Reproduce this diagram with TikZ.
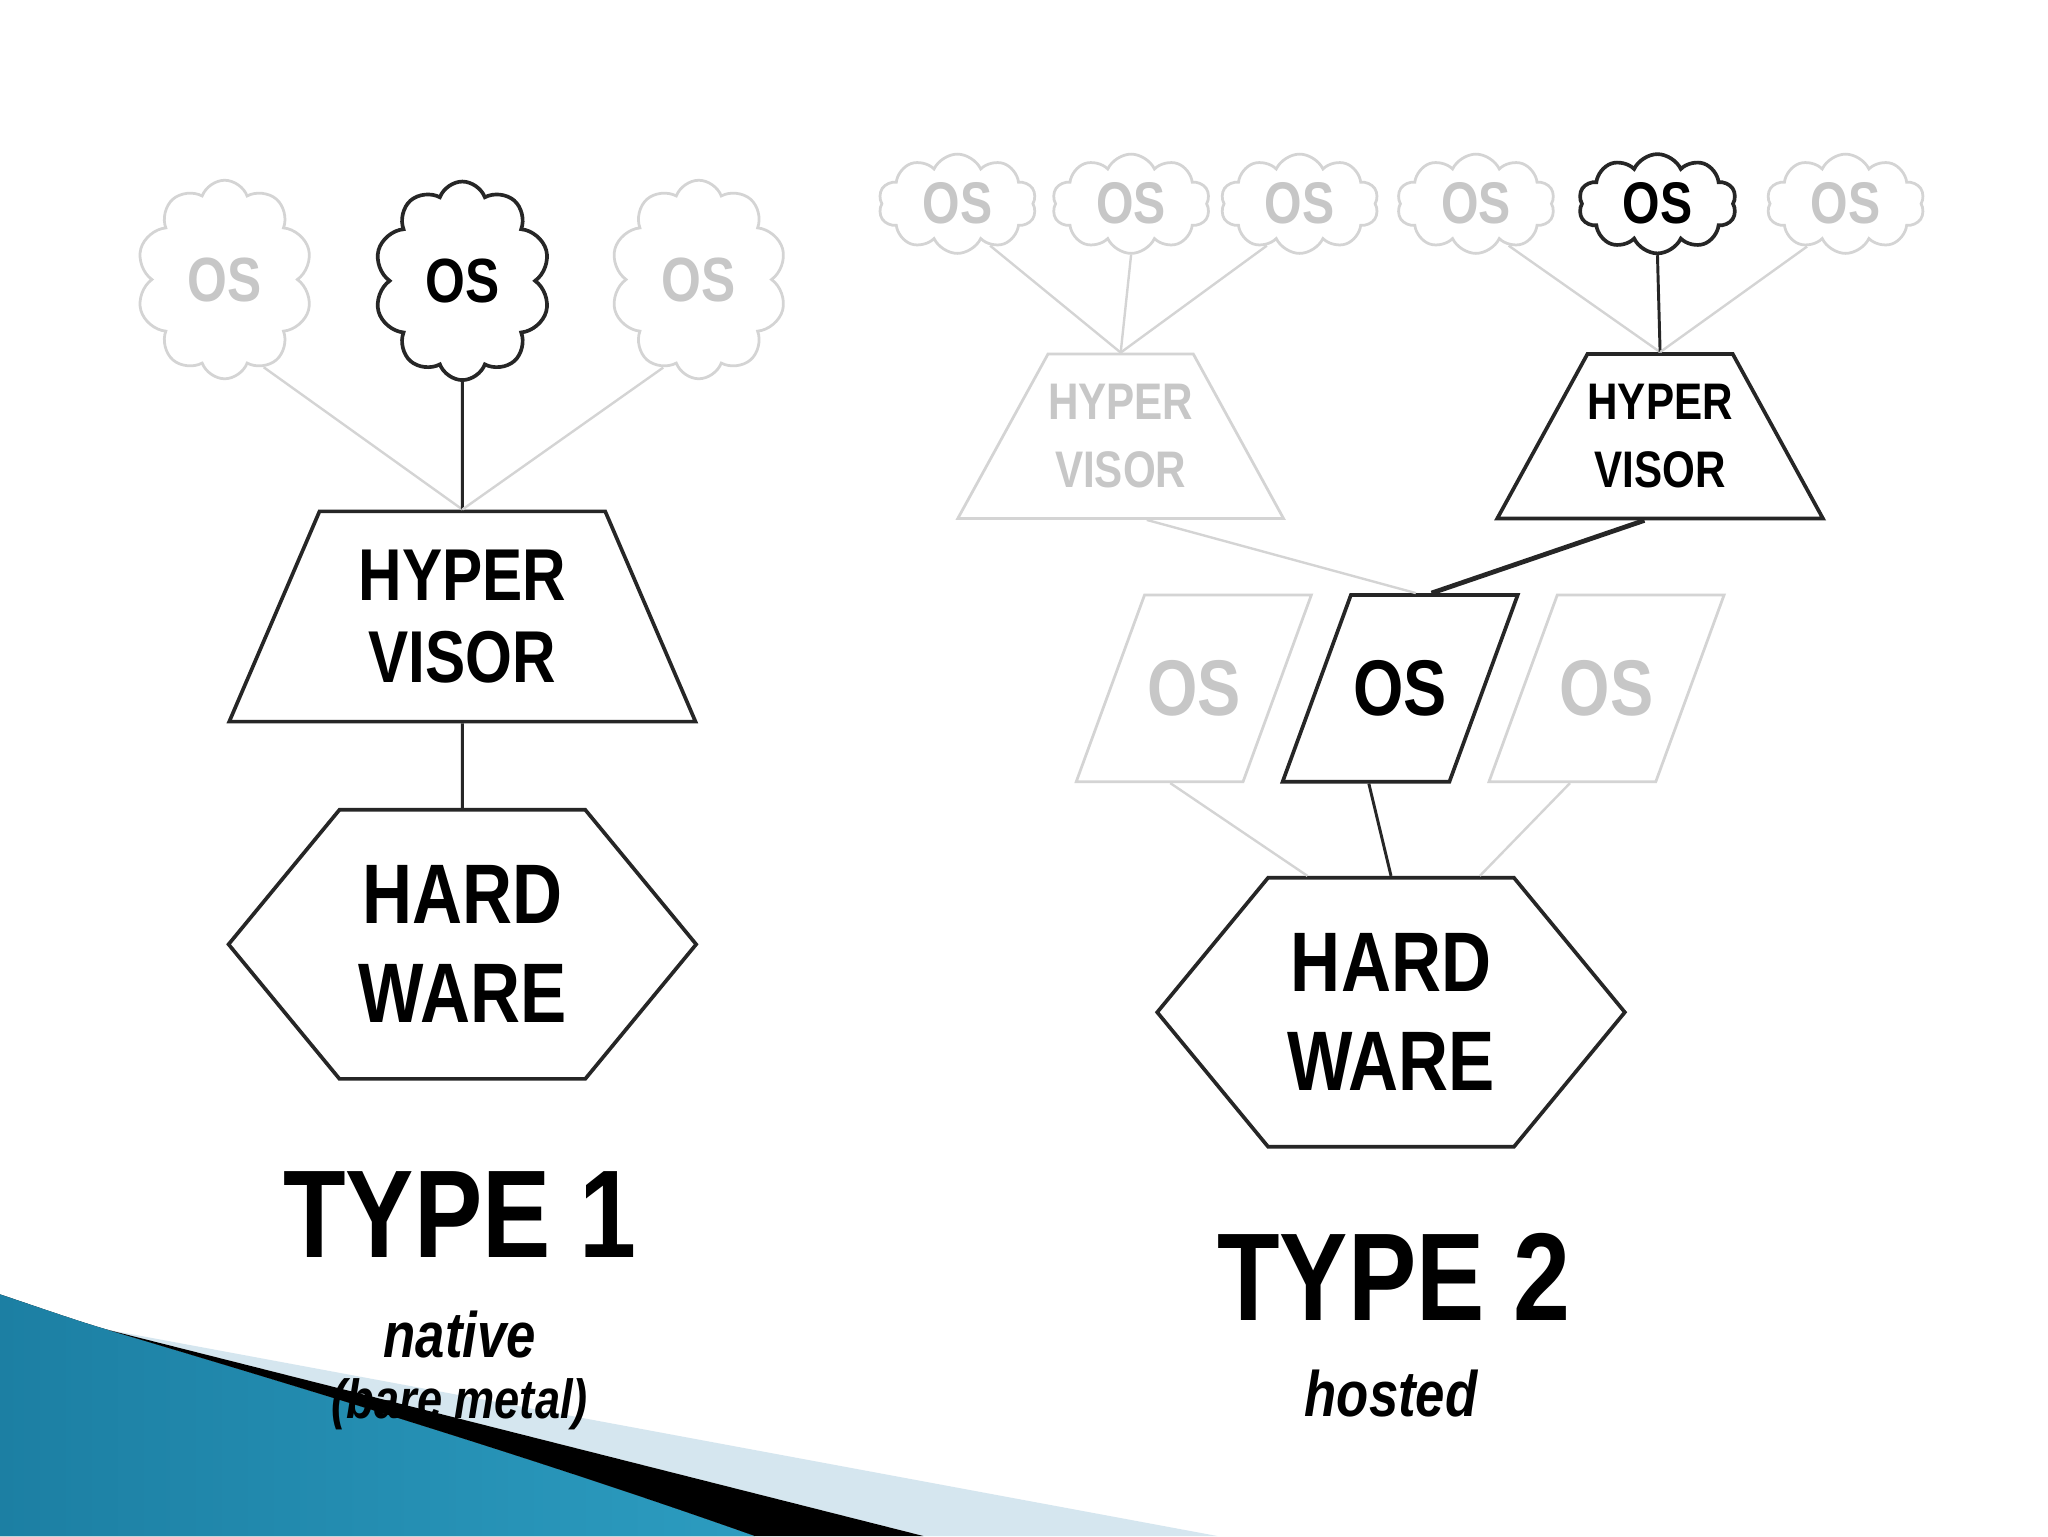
\documentclass[tikz,border=0pt]{standalone}
\usepackage{fontspec}
\setmainfont{Liberation Sans}[FakeStretch=0.82]
\usetikzlibrary{shapes.geometric,shapes.symbols}

\definecolor{swoopDark}{HTML}{1C7FA3}
\definecolor{swoopLight}{HTML}{4DB6D9}
\definecolor{swoopMid}{HTML}{2C9CC0}
\definecolor{swoopPale}{HTML}{D5E6EF}

\tikzset{
  solid line/.style={draw=black!85, line width=1.6pt},
  faded line/.style={draw=black!17, line width=1.3pt},
  dark/.style={draw=black!85, line width=2pt, fill=white, text=black},
  faded/.style={draw=black!17, line width=1.5pt, fill=white, text=black!22},
  guest/.style={cloud, cloud puffs=10, cloud puff arc=140, cloud ignores aspect,
    shape border rotate=18,
    inner sep=0pt, minimum width=33.75mm, minimum height=38mm,
    font=\bfseries\fontsize{34}{34}\selectfont},
  guest small/.style={cloud, cloud puffs=10, cloud puff arc=130, cloud ignores aspect,
    inner sep=0pt, minimum width=30.25mm, minimum height=19mm,
    font=\bfseries\fontsize{32}{32}\selectfont},
  hyper/.style={trapezium, trapezium left angle=56, trapezium right angle=56,
    trapezium stretches body, inner sep=0pt, align=center,
    minimum width=89.25mm, minimum height=40.25mm,
    font=\bfseries\fontsize{40}{45}\selectfont},
  hyper small/.style={trapezium, trapezium left angle=49, trapezium right angle=49,
    trapezium stretches body, inner sep=0pt, align=center,
    minimum width=60mm, minimum height=31.5mm,
    font=\bfseries\fontsize{28}{37}\selectfont},
  board/.style={signal, signal to=west and east, signal pointer angle=101,
    inner sep=0pt, align=center, minimum width=89.5mm, minimum height=51.5mm,
    font=\bfseries\fontsize{46}{54}\selectfont},
  slab/.style={trapezium, trapezium left angle=39.3, trapezium right angle=140.7,
    trapezium stretches body, inner sep=0pt,
    minimum width=45mm, minimum height=35.75mm,
    font=\bfseries\fontsize{43}{43}\selectfont},
  title/.style={font=\bfseries\fontsize{68}{68}\selectfont},
  note/.style={font=\bfseries\itshape\fontsize{35}{35}\selectfont}
}

\begin{document}
\begin{tikzpicture}[x=0.25mm, y=-0.25mm]
    \useasboundingbox[fill=white] (0,0) rectangle (1568,1176);

    % slide corner
    \fill[left color=swoopDark, middle color=swoopLight, right color=swoopMid]
        (0,991) .. controls (30,1001) and (55,1010) .. (82,1018)
        .. controls (250,1068) and (420,1120) .. (578,1176) -- (0,1176) -- cycle;
    \fill[swoopPale] (82,1018) -- (932,1176) -- (707,1176) -- cycle;
    \fill[black] (82,1018) -- (707,1176) -- (578,1176)
        .. controls (420,1120) and (250,1068) .. (82,1018) -- cycle;

    % type 1
    \node[guest, faded] (os1a) at (172,214) {OS};
    \node[guest, dark] (os1b) at (354,215) {OS};
    \node[guest, faded] (os1c) at (535,214) {OS};
    \node[hyper, dark] (hv1) at (354,472) {HYPER\\VISOR};
    \node[board, dark] (hw1) at (354,723) {HARD\\WARE};
    \node[title] (t1) at (352,930) {TYPE 1};
    \node[note] (n1) at (352,1022) {native};
    \node[note, font=\bfseries\itshape\fontsize{30}{30}\selectfont] (n1b) at (352,1075) {(bare metal)};

    \draw[faded line] (os1a.-66) -- (hv1.north);
    \draw[solid line] (os1b.south) -- (hv1.north);
    \draw[faded line] (os1c.-112) -- (hv1.north);
    \draw[solid line] (hv1.south) -- (hw1.north);

    % type 2
    \node[guest small, faded] (vm1) at (733,156) {OS};
    \node[guest small, faded] (vm2) at (866,156) {OS};
    \node[guest small, faded] (vm3) at (995,156) {OS};
    \node[guest small, faded] (vm4) at (1130,156) {OS};
    \node[guest small, dark] (vm5) at (1269,156) {OS};
    \node[guest small, faded] (vm6) at (1413,156) {OS};
    \node[hyper small, faded] (hv2a) at (858,334) {HYPER\\VISOR};
    \node[hyper small, dark] (hv2b) at (1271,334) {HYPER\\VISOR};
    \node[slab, faded] (host1) at (914,527) {OS};
    \node[slab, dark] (host2) at (1072,527) {OS};
    \node[slab, faded] (host3) at (1230,527) {OS};
    \node[board, dark] (hw2) at (1065,775) {HARD\\WARE};
    \node[title] (t2) at (1067,978) {TYPE 2};
    \node[note] (n2) at (1065,1067) {hosted};

    \draw[faded line] (vm1.-52) -- (hv2a.north);
    \draw[faded line] (vm2.south) -- (hv2a.north);
    \draw[faded line] (vm3.-128) -- (hv2a.north);
    \draw[faded line] (vm4.-52) -- (hv2b.north);
    \draw[solid line] (vm5.south) -- (hv2b.north);
    \draw[faded line] (vm6.-132) -- (hv2b.north);
    \draw[faded line] ([xshift=5mm]hv2a.south) -- ([xshift=3mm]host2.north);
    \draw[solid line, line width=2.6pt] ([xshift=-3mm]hv2b.south) -- ([xshift=6mm]host2.north);
    \draw[faded line] ([xshift=-4.5mm]host1.south) -- ([xshift=-16mm]hw2.north);
    \draw[solid line] ([xshift=-6mm]host2.south) -- (hw2.north);
    \draw[faded line] ([xshift=-7mm]host3.south) -- ([xshift=17mm]hw2.north);

\end{tikzpicture}
\end{document}
